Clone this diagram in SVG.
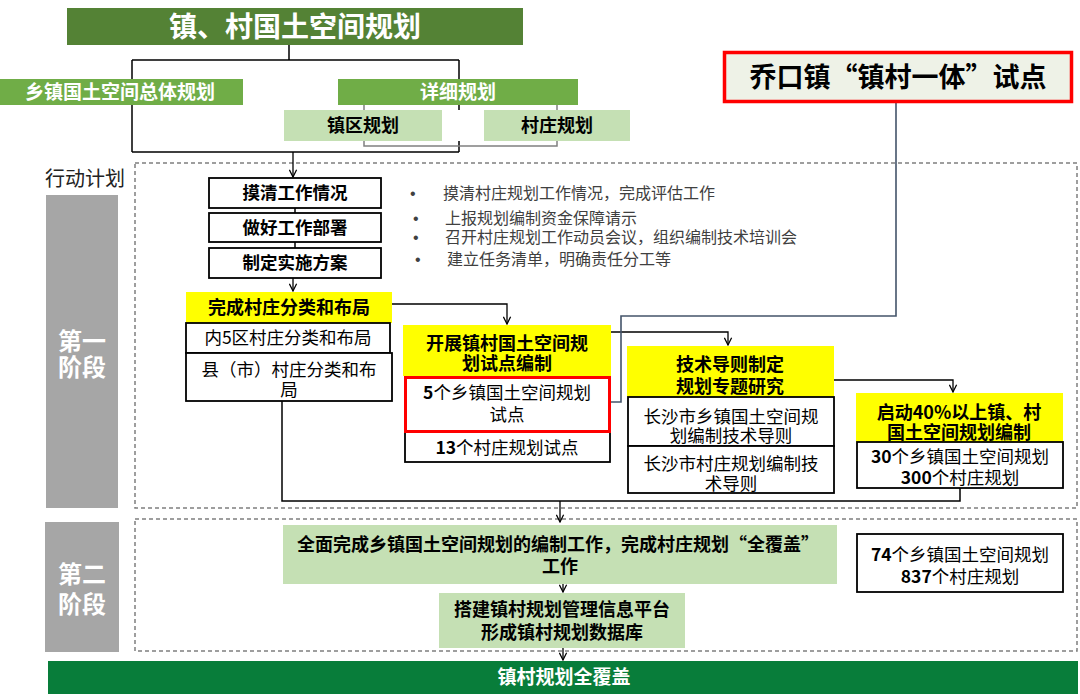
<svg xmlns="http://www.w3.org/2000/svg" width="1080" height="700" viewBox="0 0 1080 700">
<style>
text{font-family:"Noto Sans CJK SC","Liberation Sans",sans-serif;}
.b{font-weight:700;}
.c{text-anchor:middle;}
.w{fill:#fff;}
.k{fill:#000;}
.g{fill:#404040;}
.dot{fill:#404040;font-family:"Liberation Sans",sans-serif;font-size:16px;}
.box{fill:#fff;stroke:#000;stroke-width:1.8;}
.yel{fill:#FFFF00;}
.lg{fill:#C5E0B4;}
.dash{fill:none;stroke:#7f7f7f;stroke-width:1.5;stroke-dasharray:4 3;}
.ln{fill:none;stroke:#000;stroke-width:1.5;}
.ar{fill:none;stroke:#000;stroke-width:1.3;marker-end:url(#ah);}
</style>
<defs>
<marker id="ah" viewBox="0 0 10 10" refX="9" refY="5" markerWidth="9" markerHeight="9" markerUnits="userSpaceOnUse" orient="auto"><path d="M1,1 L9,5 L1,9" fill="none" stroke="#000" stroke-width="1.4"/></marker>
</defs>
<rect width="1080" height="700" fill="#fff"/>

<g id="phases">
<rect class="dash" x="135" y="163" width="942" height="345"/>
<rect class="dash" x="135" y="519" width="942" height="132"/>
<rect x="46" y="195" width="72" height="313" fill="#A6A6A6"/>
<rect x="45" y="522" width="74" height="130" fill="#A6A6A6"/>
<text class="b c w" font-size="24"><tspan x="82" y="350">第一</tspan><tspan x="82" y="376">阶段</tspan></text>
<text class="b c w" font-size="24"><tspan x="82" y="583">第二</tspan><tspan x="82" y="613">阶段</tspan></text>
<text x="45" y="186" font-size="20" fill="#222">行动计划</text>
</g>

<g id="connectors">
<path class="ln" d="M289,45 V60 M132,60 H459 M132,60 V152 M459,60 V110 M459,141 V152 M132,152 H459"/>
<path d="M364,105 V146 H557 V105" fill="none" stroke="#808080" stroke-width="1.5"/>
<path class="ar" d="M293,152 V177"/>
<path class="ln" d="M295,208 V213 M295,242 V248"/>
<path class="ar" d="M293,278 V291"/>
<path class="ar" d="M392,304 H507 V324"/>
<path class="ar" d="M611,332 H728 V345"/>
<path class="ar" d="M834,380 H953 V392"/>
<path d="M896,103 V316 H621 V402 H611" fill="none" stroke="#44546A" stroke-width="1.6"/>
<path class="ln" d="M282,401 V501 H960 V488"/>
<path class="ar" d="M560,501 V522"/>
<path class="ar" d="M563,584 V592"/>
<path class="ar" d="M563,648 V660"/>
</g>

<g id="title">
<rect x="67" y="8" width="456" height="37" fill="#548235"/>
<text class="b c w" x="295" y="37" font-size="28">镇、村国土空间规划</text>
</g>
<g id="zongti">
<rect x="0" y="79" width="243" height="26" fill="#70AD47"/>
<text class="b c w" x="120" y="98.5" font-size="19">乡镇国土空间总体规划</text>
</g>
<g id="xiangxi">
<rect x="338" y="79" width="240" height="26" fill="#70AD47"/>
<text class="b c w" x="458" y="98.5" font-size="19">详细规划</text>
</g>
<g id="zhenqu">
<rect class="lg" x="284" y="110" width="158" height="31"/>
<text class="b c k" x="363" y="132" font-size="18">镇区规划</text>
</g>
<g id="cunzhuang">
<rect class="lg" x="484" y="110" width="146" height="31"/>
<text class="b c k" x="557" y="132" font-size="18">村庄规划</text>
</g>
<g id="qiaokou">
<rect x="724.5" y="52.5" width="347" height="49" fill="#EEF2E7" stroke="#FF0000" stroke-width="3.5"/>
<text class="b c k" x="898" y="86.5" font-size="27">乔口镇“镇村一体”试点</text>
</g>

<g id="step1">
<rect class="box" x="209" y="178" width="172" height="30"/>
<text class="b c k" x="295" y="199" font-size="17.5">摸清工作情况</text>
</g>
<g id="step2">
<rect class="box" x="209" y="213" width="172" height="29"/>
<text class="b c k" x="295" y="233.5" font-size="17.5">做好工作部署</text>
</g>
<g id="step3">
<rect class="box" x="209" y="248" width="172" height="30"/>
<text class="b c k" x="295" y="269" font-size="17.5">制定实施方案</text>
</g>
<g id="bullets">
<text class="dot" x="410" y="198.5">•</text>
<text class="g" x="443" y="198.5" font-size="16">摸清村庄规划工作情况，完成评估工作</text>
<text class="dot" x="413" y="223.5">•</text>
<text class="g" x="445" y="223.5" font-size="16">上报规划编制资金保障请示</text>
<text class="dot" x="413" y="242.5">•</text>
<text class="g" x="445" y="242.5" font-size="16">召开村庄规划工作动员会议，组织编制技术培训会</text>
<text class="dot" x="415" y="264.5">•</text>
<text class="g" x="447" y="264.5" font-size="16">建立任务清单，明确责任分工等</text>
</g>

<g id="fenlei">
<rect class="yel" x="186" y="292" width="206" height="31"/>
<text class="b c k" x="289" y="314" font-size="18">完成村庄分类和布局</text>
<rect class="box" x="186" y="323" width="204" height="30"/>
<text class="c k" x="288" y="344" font-size="17.5">内5区村庄分类和布局</text>
<rect class="box" x="186" y="353" width="206" height="48"/>
<text class="c k" font-size="17.5"><tspan x="289" y="376">县（市）村庄分类和布</tspan><tspan x="289" y="396">局</tspan></text>
</g>

<g id="shidian">
<rect class="yel" x="403" y="325" width="208" height="51"/>
<text class="b c k" font-size="18"><tspan x="507" y="349.5">开展镇村国土空间规</tspan><tspan x="507" y="369.5">划试点编制</tspan></text>
<rect class="box" x="405" y="432" width="205" height="30"/>
<text class="c k" x="507" y="454" font-size="17.5"><tspan class="b">13</tspan>个村庄规划试点</text>
<rect x="405.5" y="377.5" width="204" height="54" fill="#fff" stroke="#FF0000" stroke-width="3"/>
<text class="c k" font-size="17.5"><tspan x="507" y="399"><tspan class="b">5</tspan>个乡镇国土空间规划</tspan><tspan x="507" y="421">试点</tspan></text>
</g>

<g id="daoze">
<rect class="yel" x="627" y="346" width="207" height="51"/>
<text class="b c k" font-size="18"><tspan x="730" y="370.5">技术导则制定</tspan><tspan x="730" y="392.5">规划专题研究</tspan></text>
<rect class="box" x="628" y="397" width="206" height="49"/>
<text class="c k" font-size="17.5"><tspan x="731" y="423">长沙市乡镇国土空间规</tspan><tspan x="731" y="441.5">划编制技术导则</tspan></text>
<rect class="box" x="628" y="446" width="206" height="47"/>
<text class="c k" font-size="17.5"><tspan x="731" y="470">长沙市村庄规划编制技</tspan><tspan x="731" y="490">术导则</tspan></text>
</g>

<g id="qidong">
<rect class="yel" x="856" y="393" width="207" height="49"/>
<text class="b c k" font-size="18"><tspan x="959" y="418.5">启动40%以上镇、村</tspan><tspan x="959" y="438.5">国土空间规划编制</tspan></text>
<rect class="box" x="857" y="442" width="206" height="46"/>
<text class="c k" font-size="17.5"><tspan x="960" y="463"><tspan class="b">30</tspan>个乡镇国土空间规划</tspan><tspan x="960" y="484"><tspan class="b">300</tspan>个村庄规划</tspan></text>
</g>

<g id="quanmian">
<rect class="lg" x="283" y="525" width="554" height="59"/>
<text class="b c k" font-size="18"><tspan x="558" y="551">全面完成乡镇国土空间规划的编制工作，完成村庄规划“全覆盖”</tspan><tspan x="560" y="573">工作</tspan></text>
</g>
<g id="dajian">
<rect class="lg" x="439" y="593" width="246" height="55"/>
<text class="b c k" font-size="18"><tspan x="562" y="615.5">搭建镇村规划管理信息平台</tspan><tspan x="562" y="638.5">形成镇村规划数据库</tspan></text>
</g>
<g id="total">
<rect class="box" x="857" y="534" width="206" height="58"/>
<text class="c k" font-size="17.5"><tspan x="960" y="561"><tspan class="b">74</tspan>个乡镇国土空间规划</tspan><tspan x="960" y="583"><tspan class="b">837</tspan>个村庄规划</tspan></text>
</g>
<g id="final">
<rect x="48" y="661" width="1030" height="33" fill="#087D3A"/>
<text class="b c w" x="564" y="684" font-size="19">镇村规划全覆盖</text>
</g>
</svg>
